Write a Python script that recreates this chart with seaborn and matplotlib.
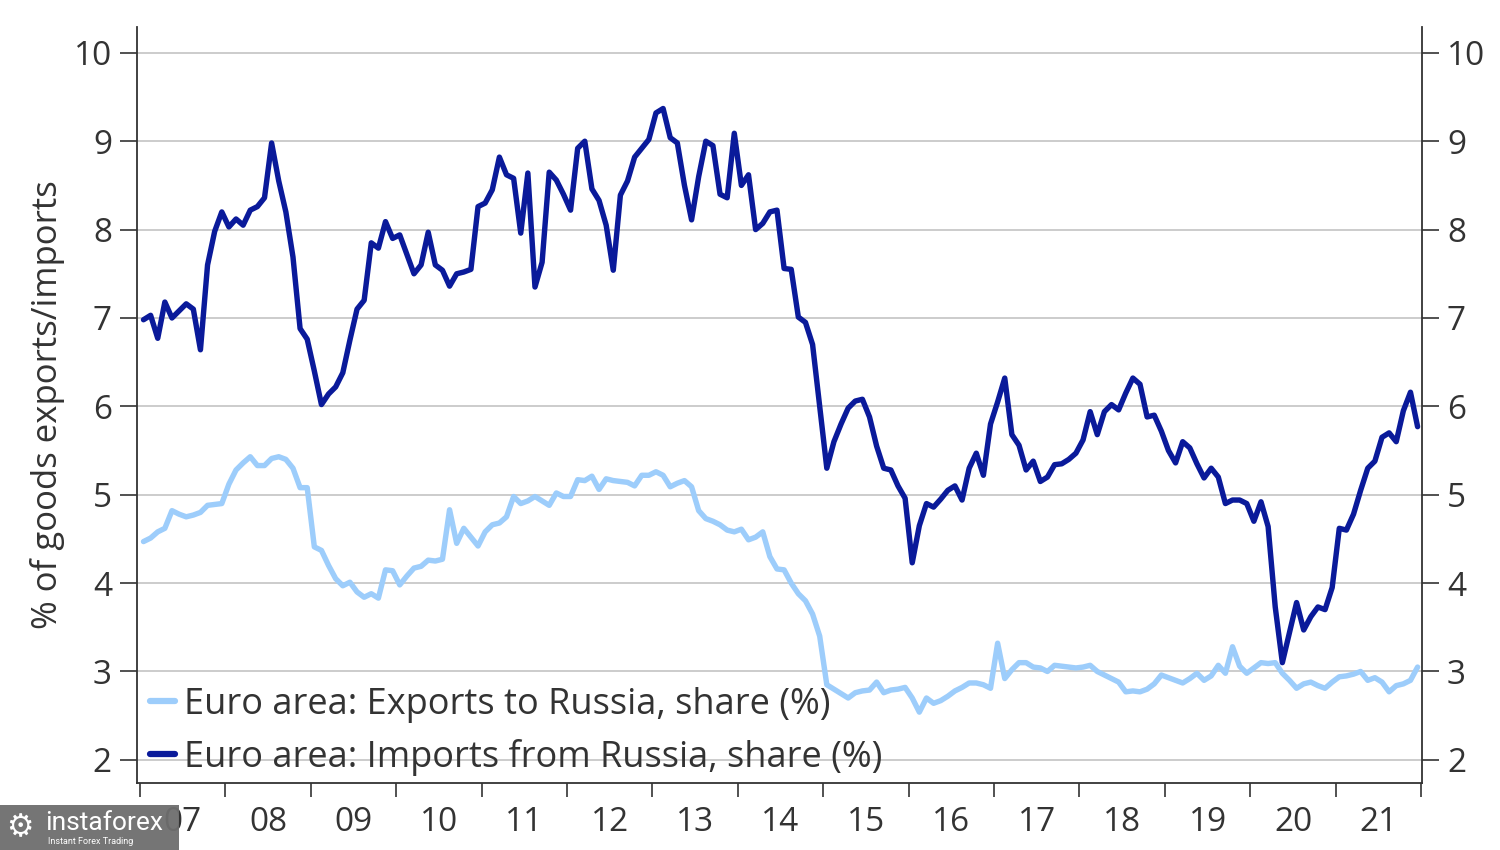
import numpy as np
import pandas as pd
import matplotlib
matplotlib.use("Agg")
import matplotlib.pyplot as plt
from matplotlib.patches import Rectangle
import seaborn as sns

# ==========================================
# DATA (monthly, Jan 2007 - Dec 2021)
# ==========================================
imports_share = [
    6.98, 7.03, 6.77, 7.18, 7.00, 7.08, 7.16, 7.10, 6.64, 7.60, 7.98, 8.20,  # 2007
    8.03, 8.12, 8.05, 8.22, 8.26, 8.36, 8.98, 8.55, 8.20, 7.69, 6.88, 6.76,  # 2008
    6.40, 6.02, 6.14, 6.22, 6.38, 6.75, 7.10, 7.20, 7.85, 7.79, 8.09, 7.90,  # 2009
    7.94, 7.72, 7.50, 7.60, 7.97, 7.60, 7.54, 7.36, 7.50, 7.52, 7.55, 8.26,  # 2010
    8.30, 8.45, 8.82, 8.62, 8.58, 7.96, 8.64, 7.35, 7.63, 8.65, 8.56, 8.40,  # 2011
    8.22, 8.92, 9.00, 8.46, 8.33, 8.05, 7.54, 8.39, 8.55, 8.82, 8.92, 9.02,  # 2012
    9.32, 9.37, 9.04, 8.98, 8.50, 8.11, 8.60, 9.00, 8.95, 8.40, 8.36, 9.09,  # 2013
    8.50, 8.62, 8.00, 8.07, 8.20, 8.22, 7.56, 7.55, 7.01, 6.95, 6.70, 6.00,  # 2014
    5.30, 5.60, 5.80, 5.98, 6.06, 6.08, 5.88, 5.55, 5.30, 5.28, 5.10, 4.96,  # 2015
    4.23, 4.65, 4.90, 4.86, 4.95, 5.05, 5.10, 4.94, 5.30, 5.47, 5.22, 5.80,  # 2016
    6.05, 6.32, 5.68, 5.56, 5.28, 5.38, 5.15, 5.20, 5.34, 5.35, 5.40, 5.47,  # 2017
    5.62, 5.94, 5.68, 5.94, 6.02, 5.96, 6.15, 6.32, 6.25, 5.88, 5.90, 5.72,  # 2018
    5.50, 5.36, 5.60, 5.53, 5.35, 5.19, 5.30, 5.20, 4.90, 4.94, 4.94, 4.90,  # 2019
    4.70, 4.92, 4.64, 3.73, 3.10, 3.44, 3.78, 3.47, 3.62, 3.73, 3.70, 3.95,  # 2020
    4.62, 4.60, 4.78, 5.05, 5.30, 5.38, 5.65, 5.70, 5.60, 5.95, 6.16, 5.77,  # 2021
]
exports_share = [
    4.47, 4.51, 4.58, 4.62, 4.82, 4.78, 4.75, 4.77, 4.80, 4.88, 4.89, 4.90,  # 2007
    5.12, 5.28, 5.36, 5.43, 5.33, 5.33, 5.41, 5.43, 5.40, 5.30, 5.08, 5.08,  # 2008
    4.41, 4.37, 4.20, 4.05, 3.97, 4.01, 3.90, 3.84, 3.88, 3.83, 4.15, 4.14,  # 2009
    3.98, 4.08, 4.17, 4.19, 4.26, 4.25, 4.27, 4.83, 4.45, 4.62, 4.52, 4.42,  # 2010
    4.58, 4.66, 4.68, 4.75, 4.98, 4.90, 4.93, 4.98, 4.93, 4.88, 5.02, 4.98,  # 2011
    4.98, 5.17, 5.16, 5.21, 5.06, 5.18, 5.16, 5.15, 5.14, 5.10, 5.22, 5.22,  # 2012
    5.26, 5.22, 5.09, 5.13, 5.16, 5.09, 4.82, 4.73, 4.70, 4.66, 4.60, 4.58,  # 2013
    4.61, 4.49, 4.52, 4.58, 4.30, 4.16, 4.15, 4.00, 3.88, 3.80, 3.65, 3.40,  # 2014
    2.85, 2.80, 2.75, 2.70, 2.76, 2.78, 2.79, 2.88, 2.76, 2.79, 2.80, 2.82,  # 2015
    2.70, 2.54, 2.70, 2.64, 2.67, 2.72, 2.78, 2.82, 2.87, 2.87, 2.85, 2.81,  # 2016
    3.32, 2.92, 3.02, 3.10, 3.10, 3.05, 3.04, 3.00, 3.07, 3.06, 3.05, 3.04,  # 2017
    3.05, 3.07, 3.00, 2.96, 2.92, 2.88, 2.77, 2.78, 2.77, 2.80, 2.86, 2.96,  # 2018
    2.93, 2.90, 2.87, 2.92, 2.98, 2.90, 2.95, 3.07, 2.98, 3.28, 3.06, 2.98,  # 2019
    3.04, 3.10, 3.09, 3.10, 2.98, 2.90, 2.81, 2.86, 2.88, 2.84, 2.81, 2.88,  # 2020
    2.94, 2.95, 2.97, 3.00, 2.90, 2.93, 2.88, 2.77, 2.84, 2.86, 2.90, 3.05,  # 2021
]
years = list(range(2007, 2022))
year_labels = [f"{y % 100:02d}" for y in years]
y_ticks = [2, 3, 4, 5, 6, 7, 8, 9, 10]

EXP_LABEL = "Euro area: Exports to Russia, share (%)"
IMP_LABEL = "Euro area: Imports from Russia, share (%)"

# decimal-year x positions, mid-month
n = len(imports_share)
t = years[0] + (np.arange(n) + 0.5) / 12

df = pd.DataFrame({"t": t, EXP_LABEL: exports_share, IMP_LABEL: imports_share})
df_long = df.melt(id_vars="t", var_name="series", value_name="share")

# ==========================================
# PLOT
# ==========================================
sns.set_style("white")
plt.rcParams["font.family"] = ["Open Sans", "DejaVu Sans"]
TXT = "#333333"

fig = plt.figure(figsize=(15, 8.5), dpi=100)
ax = fig.add_axes([0.0913, 0.079, 0.8567, 0.889])

palette = {EXP_LABEL: "#9dcdfb", IMP_LABEL: "#0a1a9a"}
sns.lineplot(data=df_long, x="t", y="share", hue="series", palette=palette,
             linewidth=3.9, ax=ax, legend=True)

ax.set_xlim(2006.965, 2022.01)
ax.set_ylim(1.74, 10.29)

# grid
for v in y_ticks:
    ax.axhline(v, color="#cccccc", linewidth=1.4, zorder=0)

# spines
ax.spines["top"].set_visible(False)
for s in ["left", "right", "bottom"]:
    ax.spines[s].set_color("#333333")
    ax.spines[s].set_linewidth(1.3)

# y ticks both sides
ax.set_yticks(y_ticks)
ax.set_yticklabels([str(v) for v in y_ticks])
ax.tick_params(axis="y", which="major", left=True, right=True, labelleft=True,
               labelright=True, direction="out", length=12, width=1.2,
               color="#333333", labelsize=24, labelcolor=TXT, pad=6)

# x ticks: year boundaries, labels mid-year
ax.set_xticks(years + [2022])
ax.set_xticklabels([])
ax.set_xticks([y + 0.5 for y in years], minor=True)
ax.set_xticklabels(year_labels, minor=True)
ax.tick_params(axis="x", which="major", bottom=True, direction="out",
               length=10, width=1.2, color="#333333")
ax.tick_params(axis="x", which="minor", bottom=False, length=0,
               labelsize=24, labelcolor=TXT, pad=17)

ax.set_xlabel("")
ax.set_ylabel("% of goods exports/imports", fontsize=25, color=TXT, labelpad=6)

leg = ax.legend(loc="lower left", bbox_to_anchor=(-0.004, -0.015), frameon=False,
                fontsize=26, handlelength=0.7, handletextpad=0.25,
                labelspacing=0.45, borderaxespad=0.1)
for line in leg.get_lines():
    line.set_linewidth(4.5)
for text in leg.get_texts():
    text.set_color(TXT)

# watermark badge
fig.patches.append(Rectangle((0, 0), 0.119, 0.053, transform=fig.transFigure,
                             facecolor="#6e6e6e", edgecolor="none", alpha=0.95,
                             zorder=10))
fig.text(0.03, 0.018, "instaforex", color="white", fontsize=19,
         family=["Roboto", "DejaVu Sans"], va="bottom", zorder=11)
fig.text(0.032, 0.015, "Instant Forex Trading", color="white", fontsize=6.5,
         family=["Roboto", "DejaVu Sans"], va="top", zorder=11)
fig.text(0.004, 0.026, "\u2699", color="white", fontsize=22,
         family=["DejaVu Sans"], va="center", zorder=11)

fig.savefig("out.png", dpi=100, facecolor="white")
